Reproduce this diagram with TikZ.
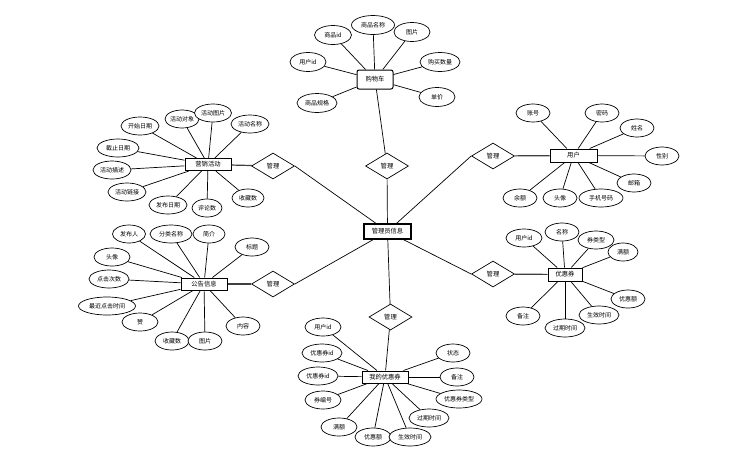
\documentclass[tikz,border=0pt]{standalone}
\usepackage{fontspec}
\newfontfamily\cjk{Noto Sans CJK SC}
\usetikzlibrary{shapes.geometric}
\tikzset{
  attr/.style={ellipse,draw,line width=0.7pt,inner sep=0pt,minimum width=36pt,minimum height=18pt,font=\cjk\fontsize{6}{7}\selectfont,fill=white},
  ent/.style={rectangle,draw,line width=1pt,inner sep=0pt,minimum width=46pt,minimum height=12pt,font=\cjk\fontsize{6.3}{7}\selectfont,fill=white},
  rel/.style={diamond,draw,line width=0.7pt,inner sep=0pt,minimum width=43pt,minimum height=26pt,font=\cjk\fontsize{6.3}{7}\selectfont,fill=white},
  link/.style={line width=0.7pt},
  hlink/.style={line width=1.2pt,draw=black!75}
}
\begin{document}
\begin{tikzpicture}[x=1pt,y=-1pt]
\useasboundingbox[fill=white] (0,0) rectangle (731,456);
% central
\node[ent,line width=1.1pt,minimum width=47pt,minimum height=15pt] (admin) at (387.5,231.5) {管理员信息};
\node[rel] (dT) at (387,166) {管理};
\node[rel] (dLU) at (273,166) {管理};
\node[rel] (dLL) at (273,284) {管理};
\node[rel] (dRU) at (493,156) {管理};
\node[rel] (dRL) at (493,274) {管理};
\node[rel] (dB) at (390.5,317) {管理};
% entities
\node[ent,rounded corners=2pt,minimum width=36pt,minimum height=19pt] (cart) at (375,79.5) {购物车};
\node[ent] (mkt) at (208,164.5) {营销活动};
\node[ent,minimum width=47pt,minimum height=13pt] (user) at (573.5,155.5) {用户};
\node[ent] (notice) at (204,284) {公告信息};
\node[ent,minimum width=34pt,minimum height=13pt] (coupon) at (565,274.5) {优惠券};
\node[ent,minimum height=12pt] (mycoupon) at (385,377) {我的优惠券};
% connectors centre
\draw[link] (admin) -- (dT);
\draw[link] (admin) -- (dLU.east);
\draw[link] (admin) -- (dLL.east);
\draw[link] (admin) -- (dRU.west);
\draw[link] (admin) -- (dRL.west);
\draw[link] (admin) -- (dB);
\draw[link] (dT) -- (cart);
\draw[hlink] (dLU) -- (mkt);
\draw[hlink] (dLL) -- (notice);
\draw[hlink] (dRU) -- (user);
\draw[hlink] (dRL) -- (coupon);
\draw[link] (dB) -- (mycoupon);
% cart attributes
\node[attr,minimum width=37pt,minimum height=19pt] (c1) at (333,35) {商品id};
\node[attr,minimum width=43pt,minimum height=19pt] (c2) at (373,25) {商品名称};
\node[attr,minimum height=19pt] (c3) at (412,32) {图片};
\node[attr,minimum height=19pt] (c4) at (308,62) {用户id};
\node[attr,minimum width=40pt,minimum height=19pt] (c5) at (440,62) {购买数量};
\node[attr,minimum height=19pt] (c6) at (437,97) {单价};
\node[attr,minimum width=40pt,minimum height=19pt] (c7) at (317,103) {商品规格};
\foreach \a in {c1,c2,c3,c4,c5,c6,c7} \draw[link] (\a) -- (cart);
% marketing attributes
\node[attr,minimum width=38pt] (m1) at (140,126) {开始日期};
\node[attr,minimum width=33pt] (m2) at (182,119) {活动对象};
\node[attr,minimum width=37pt] (m3) at (213,113) {活动图片};
\node[attr,minimum width=38pt] (m4) at (250,124) {活动名称};
\node[attr,minimum width=42pt] (m5) at (118,148) {截止日期};
\node[attr,minimum width=38pt] (m6) at (112,170) {活动描述};
\node[attr,minimum width=38pt] (m7) at (127,192) {活动链接};
\node[attr,minimum width=38pt] (m8) at (168,205) {发布日期};
\node[attr,minimum width=30pt] (m9) at (207,208) {评论数};
\node[attr,minimum width=32pt] (m10) at (248,198) {收藏数};
\foreach \a in {m1,m2,m3,m4,m5,m6,m7,m8,m9,m10} \draw[link] (\a) -- (mkt);
% user attributes
\node[attr,minimum width=34pt] (u1) at (533,113) {账号};
\node[attr,minimum width=34pt] (u2) at (602,113) {密码};
\node[attr,minimum width=34pt] (u3) at (637,128) {姓名};
\node[attr,minimum width=34pt] (u4) at (662,156) {性别};
\node[attr,minimum width=34pt] (u5) at (634,183) {邮箱};
\node[attr,minimum width=44pt] (u6) at (601,198) {手机号码};
\node[attr,minimum width=34pt] (u7) at (560,198) {头像};
\node[attr,minimum width=34pt] (u8) at (520,198) {余额};
\foreach \a in {u1,u2,u3,u4,u5,u6,u7,u8} \draw[link] (\a) -- (user);
% notice attributes
\node[attr,minimum width=33pt] (n1) at (129,234) {发布人};
\node[attr,minimum width=42pt] (n2) at (171,234) {分类名称};
\node[attr,minimum width=32pt] (n3) at (209,234) {简介};
\node[attr,minimum width=34pt] (n4) at (252,247) {标题};
\node[attr,minimum width=36pt] (n5) at (112,257) {头像};
\node[attr,minimum width=40pt] (n6) at (109,279) {点击次数};
\node[attr,minimum width=57pt] (n7) at (107,306) {最近点击时间};
\node[attr,minimum width=36pt] (n8) at (140,322) {赞};
\node[attr,minimum width=34pt] (n9) at (172,341) {收藏数};
\node[attr,minimum width=34pt] (n10) at (205,341) {图片};
\node[attr,minimum width=34pt] (n11) at (243,326) {内容};
\foreach \a in {n1,n2,n3,n4,n5,n6,n7,n8,n9,n10,n11} \draw[link] (\a) -- (notice);
% coupon attributes
\node[attr,minimum width=36pt] (p1) at (524,238) {用户id};
\node[attr,minimum width=34pt] (p2) at (562,232) {名称};
\node[attr,minimum width=36pt] (p3) at (596,240) {券类型};
\node[attr,minimum width=30pt] (p4) at (623,252) {满额};
\node[attr,minimum width=34pt] (p5) at (628,299) {优惠额};
\node[attr,minimum width=40pt] (p6) at (599,315) {生效时间};
\node[attr,minimum width=40pt] (p7) at (565,328) {过期时间};
\node[attr,minimum width=34pt] (p8) at (523,316) {备注};
\foreach \a in {p1,p2,p3,p4,p5,p6,p7,p8} \draw[link] (\a) -- (coupon);
% my coupon attributes
\node[attr,minimum width=36pt] (k1) at (323,327) {用户id};
\node[attr,minimum width=40pt] (k2) at (322,353) {优惠券id};
\node[attr,minimum width=40pt] (k3) at (318,376) {优惠券id};
\node[attr,minimum width=36pt] (k4) at (323,400) {券编号};
\node[attr,minimum width=36pt] (k5) at (339,427) {满额};
\node[attr,minimum width=36pt] (k6) at (373,437) {优惠额};
\node[attr,minimum width=42pt] (k7) at (410,437) {生效时间};
\node[attr,minimum width=40pt] (k8) at (429,418) {过期时间};
\node[attr,minimum width=46pt] (k9) at (459,399) {优惠券类型};
\node[attr,minimum width=34pt] (k10) at (457,377) {备注};
\node[attr,minimum width=34pt] (k11) at (453,353) {状态};
\foreach \a in {k1,k2,k3,k4,k5,k6,k7,k8,k9,k10,k11} \draw[link] (\a) -- (mycoupon);
\end{tikzpicture}
\end{document}
